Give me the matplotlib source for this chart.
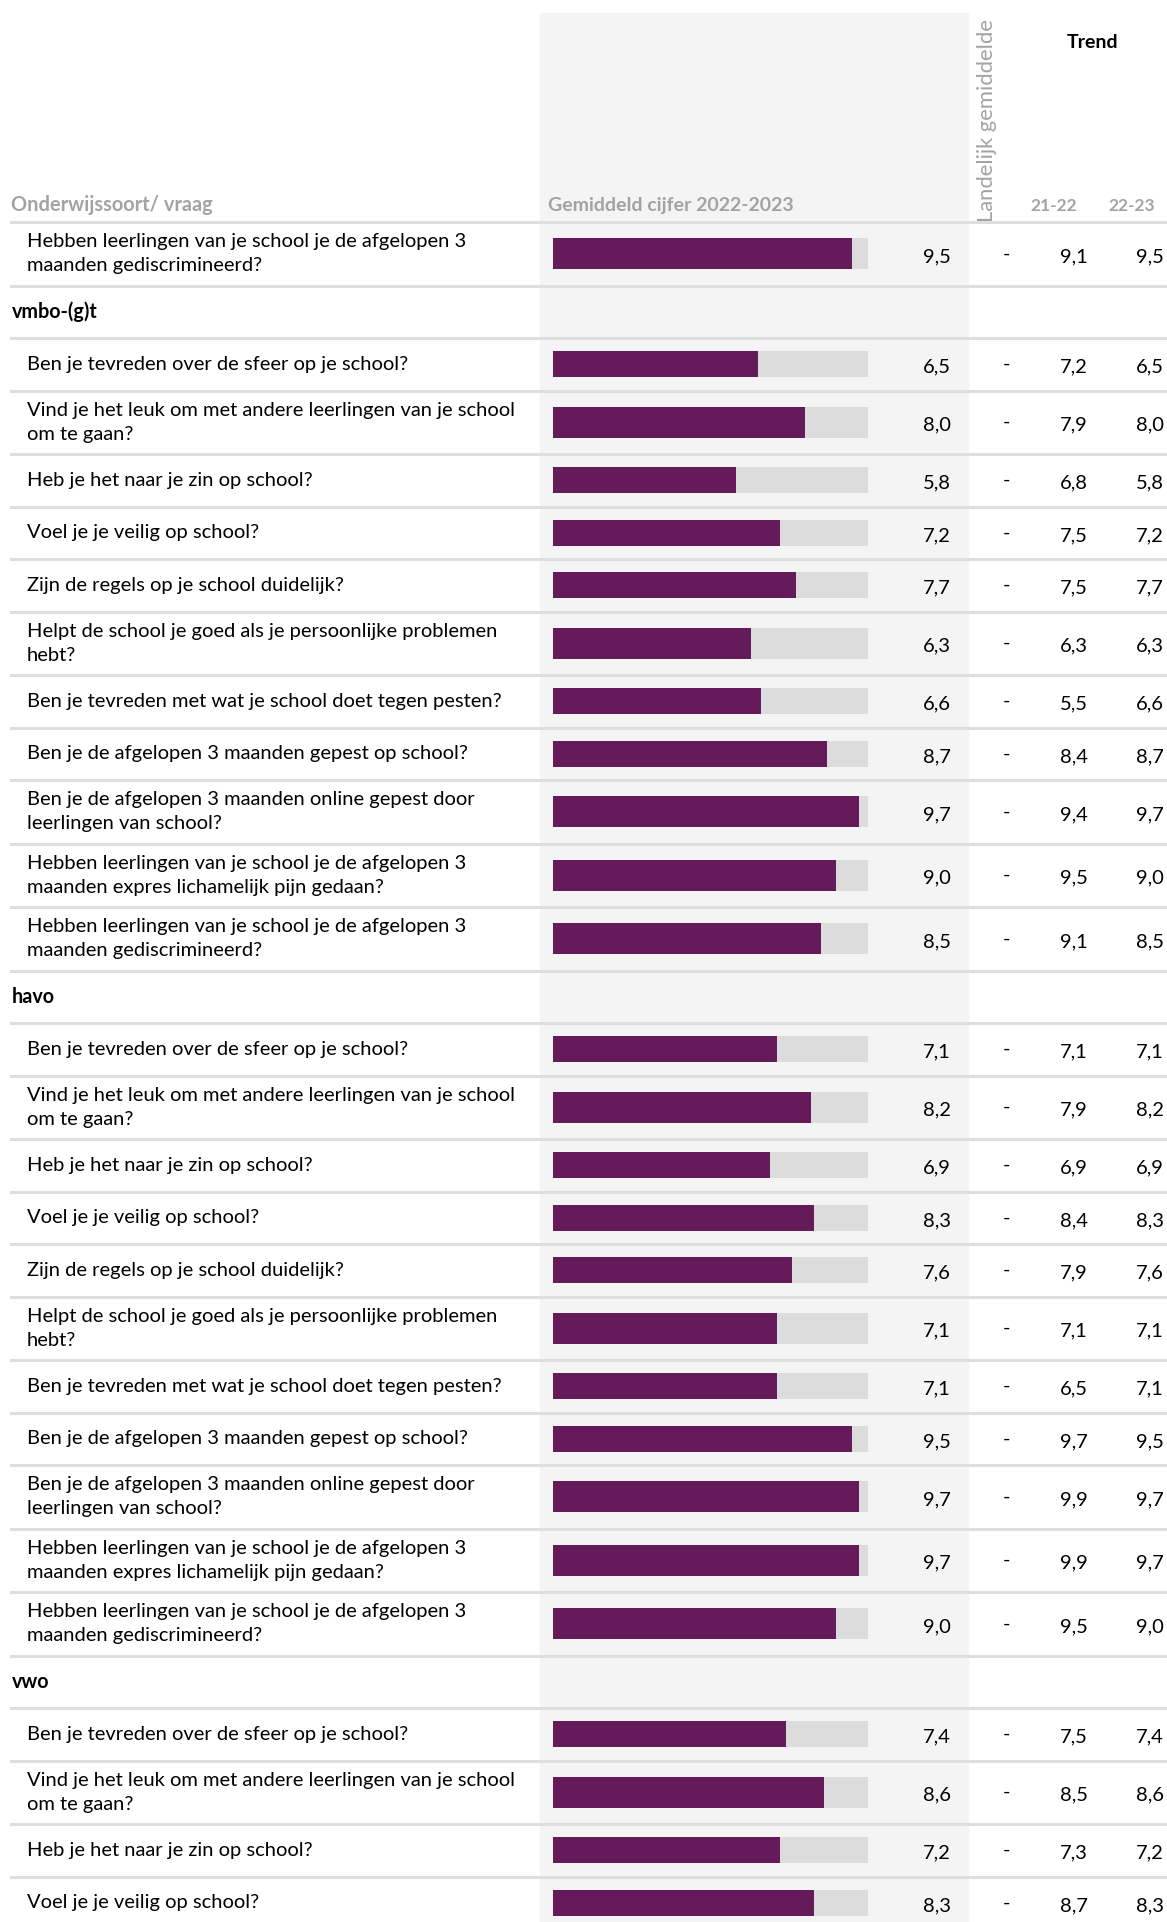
import matplotlib
matplotlib.use("Agg")
import matplotlib.pyplot as plt
from matplotlib.patches import Rectangle

plt.rcParams["font.family"] = ["Lato", "DejaVu Sans"]

# ---- data ----
questions = [
    "Ben je tevreden over de sfeer op je school?",
    "Vind je het leuk om met andere leerlingen van je school\nom te gaan?",
    "Heb je het naar je zin op school?",
    "Voel je je veilig op school?",
    "Zijn de regels op je school duidelijk?",
    "Helpt de school je goed als je persoonlijke problemen\nhebt?",
    "Ben je tevreden met wat je school doet tegen pesten?",
    "Ben je de afgelopen 3 maanden gepest op school?",
    "Ben je de afgelopen 3 maanden online gepest door\nleerlingen van school?",
    "Hebben leerlingen van je school je de afgelopen 3\nmaanden expres lichamelijk pijn gedaan?",
    "Hebben leerlingen van je school je de afgelopen 3\nmaanden gediscrimineerd?",
]
sections = ["vmbo-(g)t", "havo", "vwo"]

# carried over from previous page (last question of the block before)
first_label = questions[-1]
first_score, first_prev = 9.5, 9.1

vmbo_score = [6.5, 8.0, 5.8, 7.2, 7.7, 6.3, 6.6, 8.7, 9.7, 9.0, 8.5]
vmbo_prev = [7.2, 7.9, 6.8, 7.5, 7.5, 6.3, 5.5, 8.4, 9.4, 9.5, 9.1]
havo_score = [7.1, 8.2, 6.9, 8.3, 7.6, 7.1, 7.1, 9.5, 9.7, 9.7, 9.0]
havo_prev = [7.1, 7.9, 6.9, 8.4, 7.9, 7.1, 6.5, 9.7, 9.9, 9.9, 9.5]
vwo_score = [7.4, 8.6, 7.2, 8.3]
vwo_prev = [7.5, 8.5, 7.3, 8.7]

# ---- styling ----
W, H = 1167, 1922
PURPLE = "#651b59"
BAR_BG = "#dcdcdc"
COL_BG = "#f4f4f4"
LINE = "#dedede"
HEAD = "#a3a3a3"
FS = 14.5
ROW1, ROW2 = 52.5, 63.5
TOP = 222


def fmt(v):
    return f"{v:.1f}".replace(".", ",")


rows = [("q", first_label, first_score, first_prev)]
for sec, sc, pv in zip(sections, [vmbo_score, havo_score, vwo_score],
                       [vmbo_prev, havo_prev, vwo_prev]):
    rows.append(("s", sec, None, None))
    for q, s, p in zip(questions, sc, pv):
        rows.append(("q", q, s, p))

fig = plt.figure(figsize=(W / 100, H / 100), dpi=100)
ax = fig.add_axes([0, 0, 1, 1])
ax.set_xlim(0, W); ax.set_ylim(H, 0); ax.axis("off")
bx = fig.add_axes([553 / W, 0, (868 - 553) / W, 1])
bx.set_xlim(0, 10); bx.set_ylim(H, 0); bx.axis("off")

ax.add_patch(Rectangle((540, 13), 428, H, color=COL_BG, zorder=0))

# headers
ax.text(11, 205, "Onderwijssoort/ vraag", color=HEAD, fontsize=14.4, fontweight="bold", va="center")
ax.text(548, 205, "Gemiddeld cijfer 2022-2023", color=HEAD, fontsize=14, fontweight="bold", va="center")
ax.text(987, 222, "Landelijk gemiddelde", color=HEAD, fontsize=15.8, rotation=90,
        ha="center", va="bottom")
ax.text(1093, 42, "Trend", color="black", fontsize=14, fontweight="bold", ha="center", va="center")
ax.text(1054, 206, "21-22", color=HEAD, fontsize=12.5, fontweight="bold", ha="center", va="center")
ax.text(1132, 206, "22-23", color=HEAD, fontsize=12.5, fontweight="bold", ha="center", va="center")
ax.plot([11, W], [TOP, TOP], color=LINE, lw=2.2, zorder=1)

y = TOP
for kind, label, s, p in rows:
    h = ROW2 if "\n" in label else ROW1
    yc = y + h / 2
    if kind == "s":
        ax.text(12, yc, label, fontsize=14.2, fontweight="bold", va="center")
    else:
        ax.text(27, yc, label, fontsize=FS, va="center", linespacing=1.5)
        bx.barh(yc, 10, height=h * 0.49, color=BAR_BG, zorder=2)
        bx.barh(yc, s, height=h * 0.49, color=PURPLE, zorder=3)
        ax.text(951, yc + 3, fmt(s), fontsize=FS, ha="right", va="center")
        ax.text(1006, yc, "-", fontsize=FS, ha="center", va="center")
        ax.text(1088, yc + 3, fmt(p), fontsize=FS, ha="right", va="center")
        ax.text(1164, yc + 3, fmt(s), fontsize=FS, ha="right", va="center")
    y += h
    ax.plot([11, W], [y, y], color=LINE, lw=2.2, zorder=1)

fig.savefig("out.png", dpi=100)
